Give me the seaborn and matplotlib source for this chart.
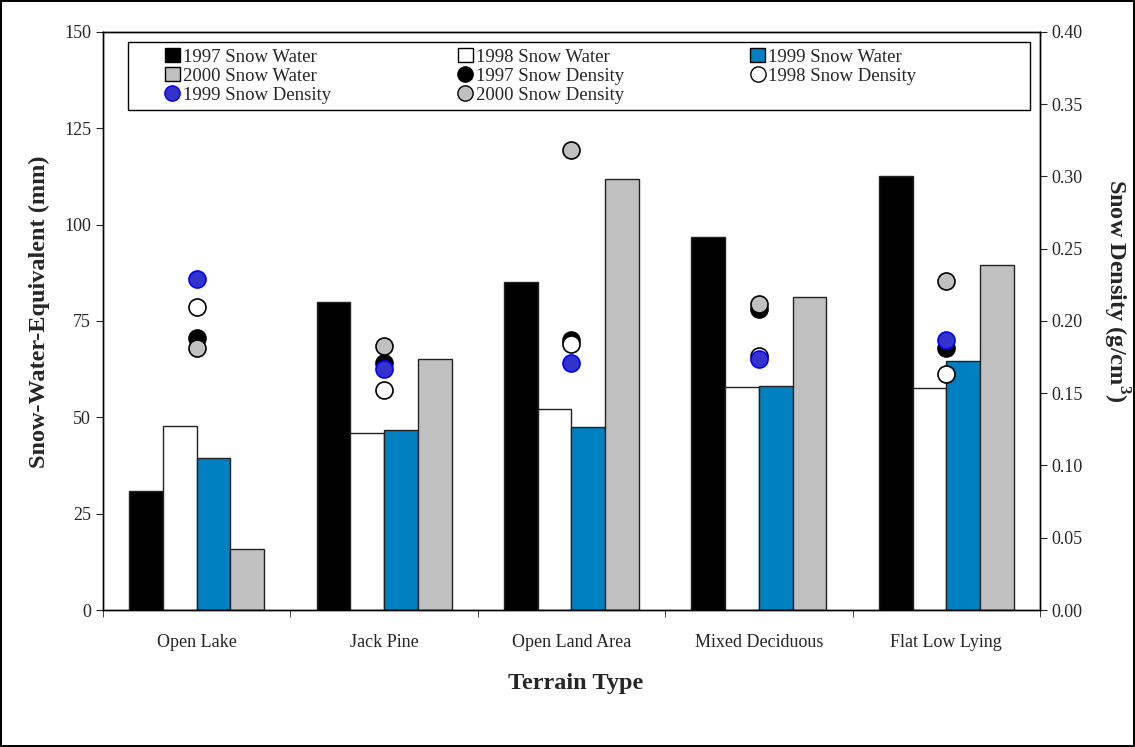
import numpy as np
import pandas as pd
import matplotlib
matplotlib.use("Agg")
import matplotlib.pyplot as plt
import seaborn as sns
from matplotlib.patches import Patch, Rectangle
from matplotlib.lines import Line2D

# 数据
terrain = ["Open Lake", "Jack Pine", "Open Land Area", "Mixed Deciduous", "Flat Low Lying"]
years = ["1997", "1998", "1999", "2000"]

swe_1997 = [31.0, 80.0, 85.0, 96.8, 112.6]
swe_1998 = [47.8, 45.9, 52.2, 57.9, 57.6]
swe_1999 = [39.5, 46.7, 47.5, 58.0, 64.6]
swe_2000 = [15.9, 65.1, 111.9, 81.2, 89.5]

dens_1997 = [0.188, 0.171, 0.187, 0.208, 0.181]
dens_1998 = [0.210, 0.152, 0.184, 0.176, 0.163]
dens_1999 = [0.229, 0.167, 0.171, 0.174, 0.187]
dens_2000 = [0.181, 0.183, 0.318, 0.212, 0.228]

bar_colors = ["#000000", "#FFFFFF", "#0080C0", "#C0C0C0"]
pt_faces = ["#000000", "#FFFFFF", "#3333CC", "#C0C0C0"]
pt_edges = ["#000000", "#000000", "#0000FF", "#000000"]

sns.set_style("ticks")
plt.rcParams["font.family"] = ["Liberation Serif", "DejaVu Serif"]
plt.rcParams["mathtext.fontset"] = "custom"
plt.rcParams["mathtext.rm"] = "Liberation Serif"
plt.rcParams["mathtext.bf"] = "Liberation Serif:bold"

swe = pd.DataFrame({
    "terrain": terrain * 4,
    "year": [y for y in years for _ in terrain],
    "swe": swe_1997 + swe_1998 + swe_1999 + swe_2000,
})
dens = [dens_1997, dens_1998, dens_1999, dens_2000]

fig = plt.figure(figsize=(11.35, 7.47), dpi=100)
fig.patch.set_edgecolor("black")
fig.patch.set_linewidth(1.5)
ax = fig.add_axes([0.0907, 0.1834, 0.8256, 0.7738])

sns.barplot(data=swe, x="terrain", y="swe", hue="year", order=terrain, hue_order=years,
            palette=bar_colors, saturation=1, width=0.72, gap=0, edgecolor="#222222",
            linewidth=1, legend=False, ax=ax)

ax2 = ax.twinx()
xs = np.arange(len(terrain))
for i, d in enumerate(dens):
    sns.scatterplot(x=xs, y=d, color=pt_faces[i], edgecolor=pt_edges[i], linewidth=1.2,
                    s=150, ax=ax2, zorder=3 + i, legend=False)

ax.set_xlim(-0.5, 4.5)
ax.set_ylim(0, 150)
ax.set_yticks([0, 25, 50, 75, 100, 125, 150])
ax2.set_ylim(0, 0.4)
ax2.set_yticks(np.arange(0, 0.41, 0.05))
ax2.set_yticklabels([f"{v:.2f}" for v in np.arange(0, 0.41, 0.05)])

ax.set_xticks(xs)
ax.set_xticklabels(terrain)
ax.tick_params(axis="x", which="major", length=0, pad=17)
ax.set_xticks(np.arange(-0.5, 5, 1), minor=True)
ax.tick_params(axis="x", which="minor", length=5, direction="out")
ax.tick_params(axis="y", length=5, direction="out")
ax2.tick_params(axis="y", length=5, direction="out")
for a in (ax, ax2):
    a.tick_params(labelsize=13)
    for s in a.spines.values():
        s.set_visible(True)
        s.set_linewidth(1)
        s.set_color("black")

ax.set_xlabel("Terrain Type", fontsize=17.5, fontweight="bold", labelpad=16)
ax.xaxis.label.set_x(0.504)
ax.set_ylabel("Snow-Water-Equivalent (mm)", fontsize=17.5, fontweight="bold", labelpad=10)
ax.yaxis.label.set_y(0.516)
ax2.set_ylabel(r"Snow Density (g/cm$^\mathbf{3}$)", fontsize=17.5, fontweight="bold",
               rotation=-90, labelpad=35)
ax2.yaxis.label.set_y(0.552)

# 图例
ax2.add_patch(Rectangle((0.0267, 0.865), 0.9627, 0.1176, transform=ax2.transAxes,
                        facecolor="white", edgecolor="black", linewidth=1, zorder=9))
sw = [Patch(facecolor=bar_colors[i], edgecolor="black", label=f"{y} Snow Water")
      for i, y in enumerate(years)]
sd = [Line2D([], [], marker="o", linestyle="", markersize=11, markerfacecolor=pt_faces[i],
             markeredgecolor=pt_edges[i], label=f"{y} Snow Density")
      for i, y in enumerate(years)]
handles = [sw[0], sw[3], sd[2], sw[1], sd[0], sd[3], sw[2], sd[1]]
leg = ax2.legend(handles=handles, ncol=3, loc="upper left",
                 bbox_to_anchor=(0.0662, 0.9725), fontsize=13.5, frameon=False,
                 handlelength=0.8, handleheight=0.8, handletextpad=0.16,
                 labelspacing=0.08, columnspacing=6.75, borderpad=0, borderaxespad=0)
leg.set_zorder(10)

fig.savefig("out.png", dpi=100)
